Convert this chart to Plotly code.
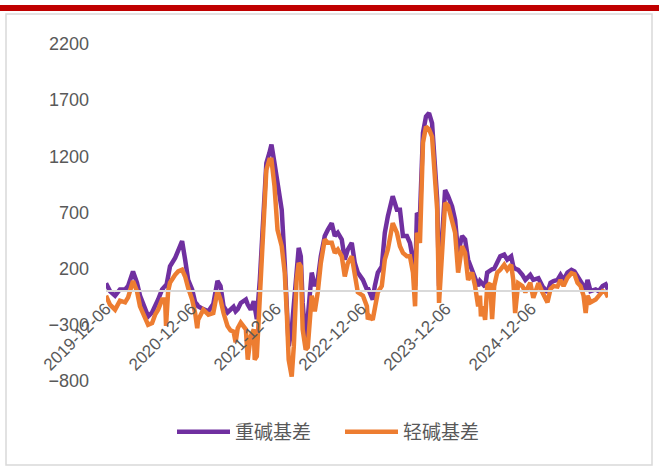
import plotly.graph_objects as go

dates = [
    "2019-12-06", "2019-12-23", "2020-01-14", "2020-02-04", "2020-02-26", "2020-03-10",
    "2020-03-31", "2020-04-17", "2020-04-30", "2020-05-13", "2020-06-04", "2020-06-21",
    "2020-07-04", "2020-07-17", "2020-08-03", "2020-08-16", "2020-08-20", "2020-08-29",
    "2020-09-06", "2020-09-28", "2020-10-11", "2020-10-28", "2020-11-10", "2020-11-23",
    "2020-12-10", "2020-12-23", "2021-01-01", "2021-01-05", "2021-01-27", "2021-02-18",
    "2021-03-11", "2021-03-29", "2021-04-11", "2021-04-24", "2021-05-11", "2021-05-24",
    "2021-06-06", "2021-06-15", "2021-06-24", "2021-07-07", "2021-07-29", "2021-08-06",
    "2021-08-19", "2021-09-01", "2021-09-05", "2021-09-14", "2021-09-27", "2021-10-03",
    "2021-10-16", "2021-10-25", "2021-11-07", "2021-11-16", "2021-11-29", "2021-12-12",
    "2021-12-30", "2022-01-12", "2022-01-21", "2022-01-29", "2022-02-11", "2022-02-20",
    "2022-03-04", "2022-03-13", "2022-03-22", "2022-03-30", "2022-04-12", "2022-04-21",
    "2022-05-08", "2022-05-21", "2022-06-03", "2022-06-16", "2022-07-03", "2022-07-16",
    "2022-08-02", "2022-08-15", "2022-08-28", "2022-09-14", "2022-09-27", "2022-10-10",
    "2022-10-27", "2022-11-09", "2022-11-22", "2022-12-14", "2022-12-31", "2023-01-04",
    "2023-01-12", "2023-01-25", "2023-02-03", "2023-02-16", "2023-03-05", "2023-03-18",
    "2023-03-31", "2023-04-17", "2023-04-21", "2023-05-09", "2023-05-22", "2023-06-04",
    "2023-06-21", "2023-07-04", "2023-07-17", "2023-07-26", "2023-08-03", "2023-08-16",
    "2023-08-29", "2023-09-11", "2023-09-24", "2023-10-07", "2023-10-16", "2023-10-29",
    "2023-11-06", "2023-11-19", "2023-12-02", "2023-12-15", "2024-01-01", "2024-01-14",
    "2024-01-27", "2024-02-13", "2024-02-26", "2024-03-10", "2024-03-27", "2024-04-09",
    "2024-04-22", "2024-04-30", "2024-05-04", "2024-05-13", "2024-05-22", "2024-05-31",
    "2024-06-13", "2024-06-21", "2024-06-30", "2024-07-13", "2024-07-26", "2024-08-12",
    "2024-08-25", "2024-09-11", "2024-09-20", "2024-09-28", "2024-10-11", "2024-10-29",
    "2024-11-11", "2024-12-02", "2024-12-15", "2025-01-06", "2025-01-23", "2025-02-14",
    "2025-02-27", "2025-03-12", "2025-03-29", "2025-04-11", "2025-04-24", "2025-05-11",
    "2025-05-28", "2025-06-10", "2025-06-23", "2025-07-06", "2025-07-19", "2025-07-28",
    "2025-08-05", "2025-08-18", "2025-09-09", "2025-09-22", "2025-10-09", "2025-10-22",
    "2025-11-01",
]

heavy_basis = [
    70, 0, -40, 15, 15, 45,
    175, 75, -40, -100, -225, -190,
    -135, -75, 15, 45, 30, 120,
    220, 295, 370, 445, 280, 100,
    15, -100, -120, -135, -160, -180,
    -115, 90, 45, -135, -190, -160,
    -140, -180, -160, -105, -75, -120,
    -165, -90, -150, -250, 100, 310,
    930, 1140, 1230, 1305, 1140, 965,
    725, 250, -105, -490, -340, -105,
    190, 385, 310, -105, -450, -225,
    165, 45, 100, 310, 490, 545,
    605, 490, 520, 460, 280, 370,
    430, 250, 165, 100, 15, 30,
    -10, -75, 45, 165, 220, 520,
    665, 785, 845, 725, 725, 490,
    490, 430, 280, 45, 695, 665,
    1410, 1555, 1585, 1495, 1255, 815,
    45, 430, 900, 845, 755, 635,
    340, 490, 460, 280, 190, 100,
    45, 90, 80, 70, 40, 165,
    190, 195, 200, 250, 310, 325,
    280, 310, 220, 200, 190, 145,
    100, 145, 100, 115, 45, -10,
    75, 90, 100, 145, 100, 165,
    190, 175, 130, 90, 45, 15,
    100, 0, 15, 0, 45, 60,
    15,
]

light_basis = [
    -40, -120, -165, -85, -100, -55,
    90, 0, -135, -195, -300, -285,
    -210, -165, -75, -75, -310, 0,
    75, 145, 175, 190, 130, 30,
    -75, -195, -330, -255, -165, -210,
    -195, 0, -75, -195, -310, -350,
    -360, -455, -330, -280, -340, -610,
    -400, -340, -610, -580, 15, 100,
    845, 1080, 1170, 1170, 935, 545,
    400, 165, -200, -610, -760, -490,
    100, 250, 220, -340, -520, -500,
    -40, -180, -10, 250, 460, 430,
    430, 340, 370, 310, 130, 250,
    310, 130, -10, -40, -135, -250,
    -225, -255, -135, -10, 45, 280,
    370, 575, 605, 520, 400, 340,
    310, 310, 165, -135, 520, 430,
    1320, 1465, 1440, 1375, 1110, 725,
    -105, 340, 785, 760, 635, 520,
    165, 400, 340, 100, 165, 45,
    -135, -40, -225, -135, -255, 45,
    70, -250, 45, 165, 190, 235,
    190, 235, 100, -195, 70, 45,
    -10, 75, -60, 70, -10, -100,
    20, 45, 40, 100, 45, 120,
    160, 150, 75, 45, -40, -195,
    -40, -100, -75, -40, 0, -10,
    -55,
]

series_names = ["重碱基差", "轻碱基差"]
series_colors = ["#7030A0", "#ED7D31"]
tick_dates = ["2019-12-06", "2020-12-06", "2021-12-06", "2022-12-06", "2023-12-06", "2024-12-06"]
y_ticks = [-800, -300, 200, 700, 1200, 1700, 2200]

W, H = 659, 467
L, R, T, B = 106, 51, 44, 86
pw, ph = W - L - R, H - T - B


def px(x):
    return (x - L) / pw


def py(y):
    return (H - B - y) / ph


fig = go.Figure()
for name, vals, col in zip(series_names, [heavy_basis, light_basis], series_colors):
    fig.add_trace(go.Scatter(x=dates, y=vals, name=name, mode="lines",
                             line=dict(color=col, width=4.5)))

ymin, ymax = y_ticks[0], y_ticks[-1]
fig.update_layout(
    width=W, height=H,
    margin=dict(l=L, r=R, t=T, b=B),
    paper_bgcolor="white", plot_bgcolor="white",
    font=dict(family="Liberation Sans, Noto Sans CJK SC", color="#595959"),
    showlegend=True,
    legend=dict(orientation="h", x=px(172), xanchor="left", y=py(432), yanchor="middle",
                font=dict(size=19, family="Noto Sans CJK SC", color="#595959"),
                itemwidth=53, entrywidth=100, bgcolor="rgba(0,0,0,0)"),
    xaxis=dict(
        type="date", range=[dates[0], dates[-1]],
        anchor="free", position=(0 - ymin) / (ymax - ymin),
        showline=True, linecolor="#D9D9D9", linewidth=2,
        showgrid=False, zeroline=False, ticks="",
        tickvals=tick_dates, tickformat="%Y-%m-%d", tickangle=-45,
        tickfont=dict(size=17, color="#595959"),
    ),
    yaxis=dict(
        range=[ymin, ymax], tickvals=y_ticks, showgrid=False, zeroline=False,
        showline=False, ticks="", ticklabelstandoff=16,
        tickfont=dict(size=18, color="#595959"),
    ),
    shapes=[
        dict(type="rect", xref="paper", yref="paper", x0=px(0), x1=px(659), y0=py(11), y1=py(5),
             fillcolor="#C00000", line=dict(width=0), layer="above"),
        dict(type="rect", xref="paper", yref="paper", x0=px(6), x1=px(652), y0=py(465), y1=py(14),
             line=dict(color="#D9D9D9", width=1.5), fillcolor="rgba(0,0,0,0)", layer="below"),
    ],
)

fig.write_html("out.html", config={"displayModeBar": False},
               post_script="document.body.style.margin='0px';")
